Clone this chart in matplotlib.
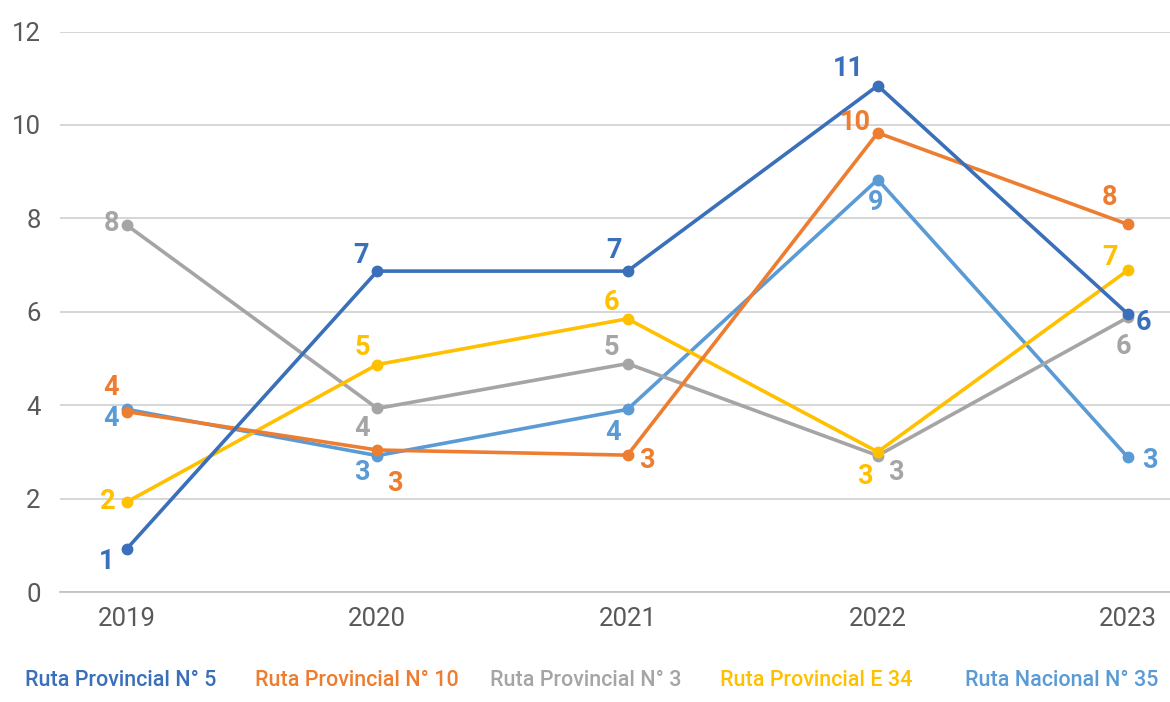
import matplotlib
matplotlib.use("Agg")
import matplotlib.pyplot as plt

plt.rcParams['font.family'] = ['Roboto', 'DejaVu Sans']

years = ["2019", "2020", "2021", "2022", "2023"]
series_names = ["Ruta Provincial N° 5", "Ruta Provincial N° 10", "Ruta Provincial N° 3",
                "Ruta Provincial E 34", "Ruta Nacional N° 35"]
rp5 = [0.93, 6.87, 6.87, 10.84, 5.95]
rp10 = [3.86, 3.04, 2.93, 9.83, 7.87]
rp3 = [7.85, 3.93, 4.89, 2.92, 5.88]
rpe34 = [1.93, 4.87, 5.85, 3.00, 6.89]
rn35 = [3.91, 2.92, 3.91, 8.83, 2.88]
y_ticks = [0, 2, 4, 6, 8, 10, 12]

all_series = [rp5, rp10, rp3, rpe34, rn35]
colors = ["#3A6FBA", "#ED7D31", "#A5A5A5", "#FFC000", "#5B9BD5"]
zorders = [7, 6, 4, 5, 3]
# label offsets in pixels (dx, dy with dy positive = down)
label_offsets = [
    [(-20, 13), (-16, -16), (-14, -21), (-29, -17), (15, 8)],
    [(-16, -24), (18, 33), (19, 5), (-22, -10), (-18, -27)],
    [(-16, -2), (-15, 20), (-16, -16), (18, 17), (-5, 29)],
    [(-19, 0), (-15, -17), (-16, -16), (-13, 25), (-18, -13)],
    [(-16, 9), (-15, 17), (-14, 23), (-2, 23), (22, 3)],
]

fig = plt.figure(figsize=(11.7, 7.02), dpi=100)
ax = fig.add_axes([60 / 1170, 110 / 702, 1110 / 1170, 560.5 / 702])

x = list(range(len(years)))
for vals, col, zo, offs in zip(all_series, colors, zorders, label_offsets):
    ax.plot(x, vals, color=col, lw=2.6, marker='o', markersize=7.5,
            solid_capstyle='round', zorder=zo, clip_on=False)
    for xi, v, (dx, dy) in zip(x, vals, offs):
        ax.annotate(f"{v:.0f}", (xi, v), xytext=(dx, -dy), textcoords='offset pixels',
                    ha='center', va='center', fontsize=19.5, fontweight='bold',
                    color=col, zorder=10)

ax.set_xlim(-0.268, 4.168)
ax.set_ylim(0, 12)
ax.set_yticks(y_ticks)
ax.set_xticks(x)
ax.set_xticklabels(years)
ax.grid(axis='y', color='#D0D0D0', lw=1.2)
ax.set_axisbelow(True)
for s in ['top', 'right', 'left']:
    ax.spines[s].set_visible(False)
ax.spines['bottom'].set_color('#BFBFBF')
ax.spines['bottom'].set_linewidth(1.2)
ax.tick_params(axis='both', length=0, labelsize=18.5, labelcolor='#595959')
ax.tick_params(axis='x', pad=11)
ax.tick_params(axis='y', pad=14)

legend_x = [25, 255, 490, 720, 965]
for name, col, lx in zip(series_names, colors, legend_x):
    fig.text(lx / 1170, 1 - 681 / 702, name, color=col, fontsize=15.5,
             fontweight='medium', ha='left', va='center')

fig.savefig("out.png", dpi=100)
